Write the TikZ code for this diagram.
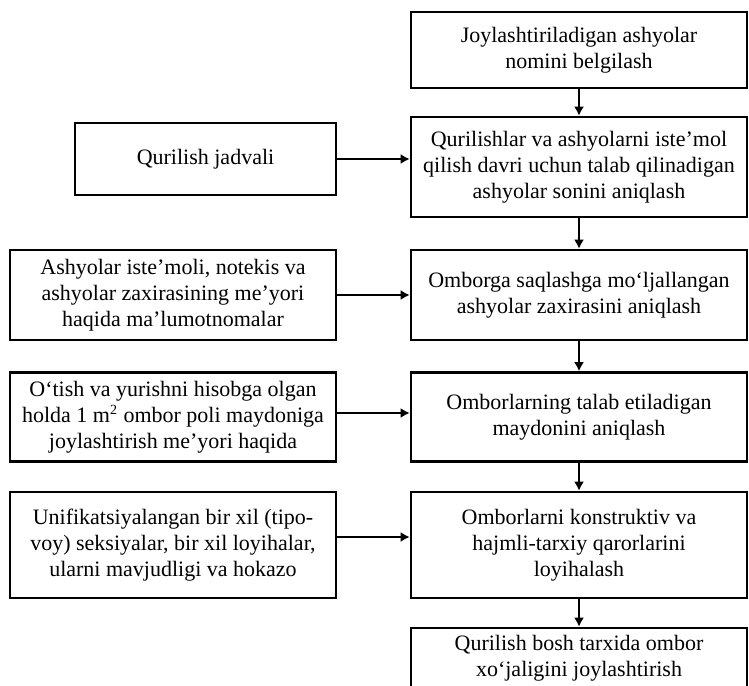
\documentclass[tikz,border=0pt]{standalone}
\usepackage{fontspec}
\setmainfont{Liberation Serif}
\usetikzlibrary{arrows.meta,positioning,calc}

\begin{document}
\begin{tikzpicture}[x=0.5pt, y=-0.5pt,
    box/.style={draw, line width=1.3pt, align=center, inner sep=1pt, font=\fontsize{11}{13}\selectfont},
    rbox/.style={box, minimum width=168pt},
    lbox/.style={box, minimum width=163pt},
    arr/.style={-{Latex[length=4.5pt,width=5pt]}, line width=1.3pt, black},
]
\useasboundingbox (0,0) rectangle (749,685);
\clip (0,0) rectangle (749,685);

% Main column
\node[rbox, minimum height=38pt] (names) at (579,50) {Joylashtiriladigan ashyolar\\nomini belgilash};
\node[rbox, minimum height=50pt] (count) at (579,167) {Qurilishlar va ashyolarni iste’mol\\qilish davri uchun talab qilinadigan\\ashyolar sonini aniqlash};
\node[rbox, minimum height=45pt] (stock) at (579,295) {Omborga saqlashga mo‘ljallangan\\ashyolar zaxirasini aniqlash};
\node[rbox, minimum height=44.5pt] (area) at (579,417) {Omborlarning talab etiladigan\\maydonini aniqlash};
\node[rbox, minimum height=53pt] (design) at (579,545) {Omborlarni konstruktiv va\\hajmli-tarxiy qarorlarini\\loyihalash};
\node[rbox, minimum height=30pt] (plan) at (579,658) {Qurilish bosh tarxida ombor\\xo‘jaligini joylashtirish};

% Source data
\node[box, minimum width=130.5pt, minimum height=36pt] (sched) at (205.5,159) {Qurilish jadvali};
\node[lbox, minimum height=45pt] (norms) at (173,295) {Ashyolar iste’moli, notekis va\\ashyolar zaxirasining me’yori\\haqida ma’lumotnomalar};
\node[lbox, minimum height=44.5pt] (place) at (173,417) {O‘tish va yurishni hisobga olgan\\holda 1 m\textsuperscript{\scriptsize 2} ombor poli maydoniga\\joylashtirish me’yori haqida};
\node[lbox, minimum height=53pt] (unif) at (173,545) {Unifikatsiyalangan bir xil (tipo-\\voy) seksiyalar, bir xil loyihalar,\\ularni mavjudligi va hokazo};

% Arrows
\draw[arr] (names) -- (count);
\draw[arr] (count) -- (stock);
\draw[arr] (stock) -- (area);
\draw[arr] (area) -- (design);
\draw[arr] (design) -- (plan);
\draw[arr] (sched.east) -- (sched.east -| count.west);
\draw[arr] (norms.east) -- (norms.east -| stock.west);
\draw[arr] ([yshift=2pt]place.east) -- ([yshift=2pt]place.east -| area.west);
\draw[arr] ([yshift=4pt]unif.east) -- ([yshift=4pt]unif.east -| design.west);
\end{tikzpicture}
\end{document}
